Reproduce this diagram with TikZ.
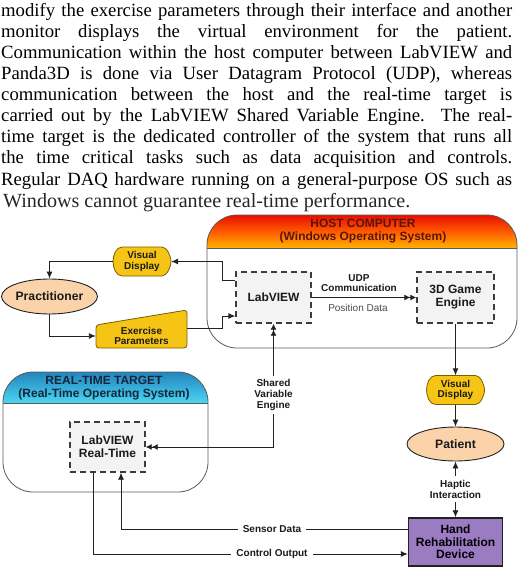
\documentclass[tikz,border=0pt]{standalone}
\usepackage{fontspec}
\setmainfont{Liberation Serif}
\newfontfamily\arialfont{Liberation Sans}
\usetikzlibrary{arrows.meta,shapes.geometric}
\definecolor{linec}{HTML}{222222}
\definecolor{goldf}{HTML}{F6C414}
\definecolor{goldd}{HTML}{7A5F00}
\definecolor{peach}{HTML}{FBD3AA}
\definecolor{purp}{HTML}{9B7CC2}
\definecolor{boxfill}{HTML}{F3F3F3}
\definecolor{dashc}{HTML}{3C3C3C}
\definecolor{conte}{HTML}{5A5A5A}
\definecolor{hosttop}{HTML}{E81000}
\definecolor{hostmid}{HTML}{FF5A00}
\definecolor{hostbot}{HTML}{FFB400}
\definecolor{rttop}{HTML}{2484BE}
\definecolor{rtbot}{HTML}{4AD6F2}
\definecolor{hosttxt}{HTML}{5A140A}
\definecolor{rttxt}{HTML}{14263A}
\definecolor{lblgray}{HTML}{4A4A4A}
\definecolor{txtc}{HTML}{1A1A1A}

\newcommand\dispshape[1]{%
  \begin{scope}[shift={#1}]
    \draw[goldshape] (-20,-14.5) -- (20,-14.5)
      .. controls (25,-14.5) and (29,-5) .. (29,0)
      .. controls (29,5) and (25,14.5) .. (20,14.5)
      -- (-20,14.5)
      .. controls (-26,14.5) and (-29,6) .. (-29,0)
      .. controls (-29,-6) and (-26,-14.5) .. (-20,-14.5) -- cycle;
  \end{scope}}

\tikzset{
  para/.style={anchor=base west, inner sep=0pt, font=\fontsize{18.7bp}{21bp}\selectfont},
  lnk/.style={draw=linec, line width=0.9bp},
  arr/.style={lnk, -{Latex[length=7bp,width=6bp]}},
  arrtwo/.style={lnk, -{Latex[length=6bp,width=6bp]Latex[length=6bp,width=6bp]}},
  arrtwoboth/.style={lnk, {Latex[length=6bp,width=6bp]Latex[length=6bp,width=6bp]}-{Latex[length=6bp,width=6bp]Latex[length=6bp,width=6bp]}},
  arrboth/.style={lnk, {Latex[length=7bp,width=6bp]}-{Latex[length=7bp,width=6bp]}},
  bigfont/.style={font=\arialfont\bfseries\fontsize{12bp}{13bp}\selectfont},
  smallfont/.style={font=\arialfont\bfseries\fontsize{10bp}{10.6bp}\selectfont},
  dashbox/.style={draw=dashc, line width=1.4bp, dash pattern=on 6bp off 4bp,
    fill=boxfill, inner sep=0pt, align=center, text=txtc, bigfont},
  goldshape/.style={draw=goldd, line width=0.8bp, fill=goldf},
  disptext/.style={inner sep=0pt, minimum width=58bp, minimum height=29bp,
    align=center, text=txtc, smallfont},
  ellnode/.style={ellipse, draw=linec, line width=0.9bp, fill=peach, inner sep=0pt,
    text=txtc, font=\arialfont\bfseries\fontsize{12.2bp}{13bp}\selectfont},
  handbox/.style={draw=linec, line width=1.5bp, fill=purp, inner sep=0pt,
    minimum width=94bp, minimum height=48bp, align=center, text=black,
    font=\arialfont\bfseries\fontsize{12bp}{12.5bp}\selectfont},
  midlbl/.style={fill=white, inner xsep=5bp, inner ysep=4bp, align=center, text=txtc, smallfont},
  plainlbl/.style={inner sep=0pt, align=center, text=txtc, smallfont},
  reglbl/.style={inner sep=0pt, text=lblgray, font=\arialfont\fontsize{10bp}{11bp}\selectfont},
  cont/.style={draw=conte, line width=0.8bp},
  titlelbl/.style={inner sep=0pt, align=center, font=\arialfont\bfseries\fontsize{12bp}{12.5bp}\selectfont}
}

\begin{document}
\begin{tikzpicture}[x=1bp,y=-1bp]
\useasboundingbox (0,0) rectangle (520,567);

% ---------- paragraph ----------
\node[para] (p1) at (1,17) {\makebox[511bp][s]{modify the exercise parameters through their interface and another}};
\node[para] (p2) at (1,38) {\makebox[511bp][s]{monitor displays the virtual environment for the patient.}};
\node[para] (p3) at (1,59) {\makebox[511bp][s]{Communication within the host computer between LabVIEW and}};
\node[para] (p4) at (1,80) {\makebox[511bp][s]{Panda3D is done via User Datagram Protocol (UDP), whereas}};
\node[para] (p5) at (1,101) {\makebox[511bp][s]{communication between the host and the real-time target is}};
\node[para] (p6) at (1,122) {\makebox[511bp][s]{carried out by the LabVIEW Shared Variable Engine.\ \ The real-}};
\node[para] (p7) at (1,143) {\makebox[511bp][s]{time target is the dedicated controller of the system that runs all}};
\node[para] (p8) at (1,164) {\makebox[511bp][s]{the time critical tasks such as data acquisition and controls.}};
\node[para] (p9) at (1,185) {\makebox[511bp][s]{Regular DAQ hardware running on a general-purpose OS such as}};
\node[para, font=\fontsize{20.1bp}{22bp}\selectfont, text=black!85] (p10) at (3,207.5) {Windows cannot guarantee real-time performance.};

% ---------- host computer container ----------
\begin{scope}
  \clip[rounded corners=30bp] (207,215) rectangle (517,348);
  \shade[top color=hosttop, bottom color=hostbot, middle color=hostmid] (207,215) rectangle (517,248);
\end{scope}
\draw[cont, rounded corners=30bp] (207,215) rectangle (517,348);
\draw[cont] (207,248) -- (517,248);
\node[titlelbl, text=hosttxt] (hosttitle) at (363,231) {HOST COMPUTER\\(Windows Operating System)};

% ---------- real-time target container ----------
\begin{scope}
  \clip[rounded corners=30bp] (3,372) rectangle (208,492);
  \shade[top color=rttop, bottom color=rtbot] (3,372) rectangle (208,403);
\end{scope}
\draw[cont, rounded corners=30bp] (3,372) rectangle (208,492);
\draw[cont] (3,403) -- (208,403);
\node[titlelbl, text=rttxt] (rttitle) at (104,388) {REAL-TIME TARGET\\(Real-Time Operating System)};

% ---------- dashed boxes ----------
\node[dashbox, minimum width=75bp, minimum height=51bp] (lv) at (273.5,297.5) {LabVIEW};
\node[dashbox, minimum width=77bp, minimum height=51bp] (ge) at (455.5,297.5) {3D Game\\Engine};
\node[dashbox, minimum width=75bp, minimum height=50bp] (lvrt) at (107.5,447) {LabVIEW\\Real-Time};

% ---------- display shapes ----------
\dispshape{(142,261.5)}
\node[disptext] (vd1) at (142,261.5) {Visual\\Display};
\dispshape{(455.5,390)}
\node[disptext] (vd2) at (455.5,390) {Visual\\Display};

% ---------- exercise parameters ----------
\draw[goldshape, rounded corners=3bp] (96,325) -- (187,310) -- (187,348) -- (96,348) -- cycle;
\node[inner sep=0pt, minimum width=91bp, minimum height=38bp] (ep) at (141.5,329) {};
\node[plainlbl] (eptext) at (141.5,336) {Exercise\\Parameters};

% ---------- ellipses and device ----------
\node[ellnode, minimum width=93bp, minimum height=35bp] (pr) at (49.5,296.5) {Practitioner};
\node[ellnode, minimum width=97bp, minimum height=34bp] (pt) at (455.5,444) {Patient};
\node[handbox] (hd) at (455.5,542) {Hand\\Rehabilitation\\Device};

% ---------- connectors ----------
\draw[arr] ([yshift=17.5bp]lv.west) -- ++(-13,0) |- (vd1.east);
\draw[arr] (vd1.west) -| (pr.north);
\draw[arr] (pr.south) |- ([yshift=-7bp]ep.west);
\draw[arr] ([yshift=1bp]ep.east) -- ++(35,0) |- ([yshift=-18.5bp]lv.west);

\draw[arrtwo] (lv.east) -- (ge.west);
\node[plainlbl] (udp) at (359,283) {UDP\\Communication};
\node[reglbl] (posd) at (358,307.5) {Position Data};

\draw[arr] (ge.south) -- (vd2.north);
\draw[arr] (vd2.south) -- (pt.north);
\draw[arrboth] (pt.south) -- node[midlbl] (hap) {Haptic\\Interaction} (hd.north);

\draw[arrtwoboth] (lv.south) -- node[midlbl, pos=0.577] (sve) {Shared\\Variable\\Engine} (lv.south |- lvrt.east) -- (lvrt.east);

\draw[arr] ([yshift=13bp]hd.west) -| ([xshift=13.5bp]lvrt.south);
\node[midlbl, inner ysep=1bp] (sens) at (272,529) {Sensor Data};
\draw[arr] ([xshift=-14.5bp]lvrt.south) |- ([yshift=-12bp]hd.west);
\node[midlbl, inner ysep=1bp] (ctrl) at (272,554) {Control Output};
\end{tikzpicture}
\end{document}
